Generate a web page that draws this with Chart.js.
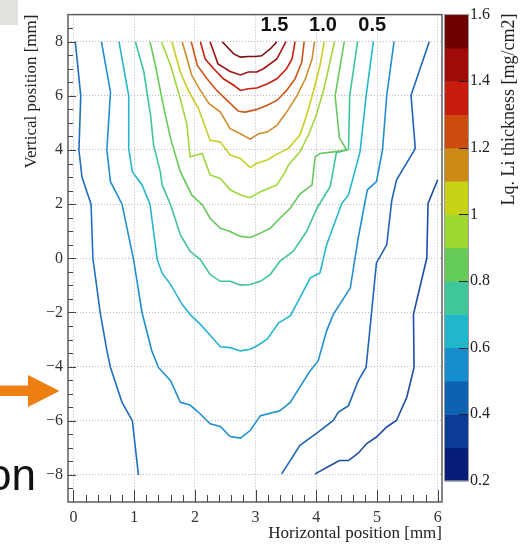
<!DOCTYPE html>
<html><head><meta charset="utf-8">
<script src="https://cdn.jsdelivr.net/npm/chart.js@4/dist/chart.umd.min.js"></script>
<style>html,body{margin:0;padding:0;background:#fff;overflow:hidden}canvas{display:block}</style>
</head><body>
<canvas id="c" width="520" height="545"></canvas>
<script>
// ---------- data (mm, mg/cm2) ----------
const xTicks = [0, 1, 2, 3, 4, 5, 6];
const yTicks = [-8, -6, -4, -2, 0, 2, 4, 6, 8];
const cbTicks = [0.2, 0.4, 0.6, 0.8, 1.0, 1.2, 1.4, 1.6];
const cbLevels = [0.2, 0.3, 0.4, 0.5, 0.6, 0.7, 0.8, 0.9, 1.0, 1.1, 1.2, 1.3, 1.4, 1.5, 1.6];
const levelLabels = ["1.5", "1.0", "0.5"];
const levelLabelX = [3.31, 4.11, 4.92];
const levelLabelY = [8.61, 8.61, 8.61];

const contour15 = [[2.45,8],[2.64,7.55],[2.75,7.43],[2.88,7.45],[3.0,7.45],[3.1,7.48],[3.24,7.73],[3.35,8]];
const contour14 = [[2.25,8],[2.38,7.18],[2.58,6.9],[2.75,6.77],[2.88,6.88],[3.02,6.88],[3.13,7.0],[3.35,7.36],[3.5,8]];
const contour13 = [[2.09,8],[2.17,7.36],[2.31,7.0],[2.47,6.63],[2.64,6.39],[2.75,6.2],[2.88,6.26],[3.02,6.29],[3.19,6.44],[3.35,6.63],[3.51,7.0],[3.6,7.36],[3.65,8]];
const contour12 = [[1.94,8],[2.04,7.12],[2.2,6.63],[2.36,6.2],[2.53,5.83],[2.72,5.43],[2.83,5.4],[3.02,5.5],[3.19,5.65],[3.35,5.83],[3.51,6.2],[3.65,6.63],[3.76,7.24],[3.8,8]];
const contour11 = [[1.79,8],[1.95,6.75],[2.09,6.2],[2.23,5.72],[2.42,5.4],[2.58,4.79],[2.75,4.6],[2.91,4.4],[3.05,4.6],[3.19,4.66],[3.35,4.91],[3.51,5.4],[3.68,6.0],[3.82,6.63],[3.93,7.36],[3.97,8]];
const contour10 = [[1.62,8],[1.76,6.88],[1.89,6.2],[2.06,5.53],[2.25,4.36],[2.42,4.3],[2.58,3.81],[2.75,3.69],[2.91,3.35],[3.02,3.51],[3.19,3.63],[3.32,3.81],[3.54,4.06],[3.73,4.55],[3.84,5.28],[3.95,6.14],[4.06,7.12],[4.13,8]];
const contour09 = [[1.45,8],[1.6,7.12],[1.76,5.89],[1.87,4.92],[1.92,3.75],[2.12,3.87],[2.25,3.08],[2.42,2.95],[2.58,2.53],[2.75,2.34],[2.91,2.24],[3.08,2.46],[3.35,2.71],[3.49,3.2],[3.54,3.44],[3.73,3.93],[3.88,4.6],[4.0,5.3],[4.12,6.2],[4.2,7.0],[4.3,8]];
const contour08 = [[1.26,8],[1.35,7.12],[1.49,5.53],[1.6,4.42],[1.76,3.2],[1.95,2.33],[2.12,1.98],[2.25,1.48],[2.42,1.11],[2.58,0.99],[2.75,0.81],[2.91,0.77],[3.08,0.93],[3.24,1.11],[3.4,1.48],[3.57,1.85],[3.73,2.37],[3.93,2.71],[3.98,3.75],[4.06,3.87],[4.28,3.93],[4.5,4.0],[4.38,4.45],[4.31,6.0],[4.46,8]];
const contour07 = [[1.02,8],[1.16,6.88],[1.27,5.28],[1.32,4.18],[1.43,3.2],[1.46,2.71],[1.6,1.98],[1.76,0.87],[1.92,0.26],[2.09,-0.05],[2.25,-0.6],[2.42,-0.85],[2.58,-0.85],[2.75,-0.99],[2.91,-0.97],[3.08,-0.85],[3.24,-0.6],[3.4,-0.11],[3.62,0.26],[3.84,0.99],[4.01,1.85],[4.23,2.65],[4.33,3.9],[4.53,4.02],[4.55,6.0],[4.68,8]];
const contour06 = [[0.75,8],[0.91,6.0],[0.91,4.05],[0.97,3.2],[1.13,2.71],[1.26,2.0],[1.38,-0.05],[1.46,-0.54],[1.6,-0.97],[1.79,-1.7],[1.92,-2.07],[2.09,-2.44],[2.31,-2.99],[2.42,-3.27],[2.58,-3.3],[2.75,-3.42],[2.91,-3.36],[3.02,-3.24],[3.19,-2.99],[3.38,-2.38],[3.57,-2.13],[3.73,-1.46],[3.9,-0.72],[4.06,-0.54],[4.17,0.5],[4.42,2.03],[4.53,2.34],[4.72,3.93],[4.82,6.0],[4.94,8]];
const contour05 = [[0.46,8],[0.61,6.14],[0.55,4.0],[0.61,2.83],[0.8,2.0],[0.99,-0.05],[1.13,-2.01],[1.29,-3.42],[1.4,-4.03],[1.6,-4.52],[1.76,-5.32],[1.92,-5.42],[2.09,-5.75],[2.25,-6.11],[2.42,-6.21],[2.58,-6.58],[2.75,-6.64],[2.91,-6.36],[3.08,-5.81],[3.4,-5.63],[3.57,-5.32],[3.9,-4.15],[4.03,-3.79],[4.17,-2.68],[4.28,-2.07],[4.56,-1.09],[4.69,0.75],[4.84,2.53],[4.99,2.83],[5.09,4.0],[5.16,6.02],[5.28,8]];
const contour04L = [[0.03,8],[0.12,6],[0.09,4],[0.14,3.0],[0.29,2],[0.32,0],[0.44,-2],[0.55,-3.4],[0.61,-4.03],[0.8,-5.32],[0.97,-6],[1.07,-8]];
const contour04R = [[5.86,8],[5.56,6.02],[5.63,4.05],[5.32,2.89],[5.24,2.1],[5.16,0.5],[4.99,-0.17],[4.88,-2.68],[4.82,-4.03],[4.69,-4.52],[4.53,-5.44],[4.36,-5.69],[4.28,-5.99],[4.03,-6.42],[3.73,-6.91],[3.43,-7.96]];
const contour03 = [[6.0,2.9],[5.84,2.03],[5.82,0.01],[5.6,-2.07],[5.61,-4.03],[5.49,-5.13],[5.32,-5.99],[5.16,-6.23],[4.99,-6.6],[4.83,-6.84],[4.69,-7.2],[4.53,-7.47],[4.38,-7.47],[4.2,-7.69],[3.98,-7.96]];

// ---------- styles ----------
const contours = [contour15, contour14, contour13, contour12, contour11, contour10, contour09, contour08, contour07, contour06, contour05, contour04L, contour04R, contour03];
const contourColors = ['#7d0f0f','#a51212','#c8200e','#cf5418','#d08c2a','#c6cf22','#9fd83a','#66c95a','#3fc49c','#25b5cf','#1f8fcf','#1f6ec0','#2064b8','#1d4ca6'];
const bandColors = ['#061d7a','#0a3c96','#0e62b4','#168ece','#20b6cc','#3ec79a','#66cc58','#9ed830','#c8d316','#cc8a14','#cc4c10','#c81c0c','#a00a08','#700000'];

const SERIF = "'Liberation Serif','Times New Roman',serif";
Chart.defaults.font.family = SERIF;

const deco = {
  id: 'deco',
  beforeDraw(chart) {
    const ctx = chart.ctx;
    ctx.save(); ctx.fillStyle = '#fff'; ctx.fillRect(0, 0, chart.width, chart.height); ctx.restore();
  },
  afterDatasetsDraw(chart) {
    const {ctx, chartArea: a, scales: {x, y, cb}} = chart;
    ctx.save();
    // frame
    ctx.strokeStyle = '#5e5e5e'; ctx.lineWidth = 1.5;
    ctx.strokeRect(a.left, a.top, a.right - a.left, a.bottom - a.top);
    // inward ticks
    ctx.strokeStyle = '#444'; ctx.lineWidth = 1;
    ctx.beginPath();
    for (let i = 0; i <= 30; i++) {
      const v = i / 5;
      const px = Math.round(x.getPixelForValue(v)) + 0.5;
      const len = xTicks.includes(v) ? 12 : 7;
      ctx.moveTo(px, a.bottom); ctx.lineTo(px, a.bottom - len);
    }
    for (let i = -17; i <= 17; i++) {
      const v = i / 2;
      const py = Math.round(y.getPixelForValue(v)) + 0.5;
      const len = yTicks.includes(v) ? 8 : 5;
      ctx.moveTo(a.left, py); ctx.lineTo(a.left + len, py);
    }
    ctx.stroke();
    // contour level labels
    ctx.fillStyle = '#111';
    ctx.font = "bold 20px 'Liberation Sans',Arial,sans-serif";
    ctx.textAlign = 'center'; ctx.textBaseline = 'middle';
    levelLabels.forEach((t, i) => ctx.fillText(t, x.getPixelForValue(levelLabelX[i]), y.getPixelForValue(levelLabelY[i])));
    // colour bar
    const bx0 = a.right + 3, bx1 = a.right + 26;
    for (let i = 0; i < bandColors.length; i++) {
      const p0 = cb.getPixelForValue(cbLevels[i]), p1 = cb.getPixelForValue(cbLevels[i + 1]);
      ctx.fillStyle = bandColors[i];
      ctx.fillRect(bx0, p1, bx1 - bx0, p0 - p1 + 0.5);
    }
    const ctop = cb.getPixelForValue(cbLevels[cbLevels.length - 1]), cbot = cb.getPixelForValue(cbLevels[0]);
    ctx.strokeStyle = '#9a9a9a'; ctx.lineWidth = 1;
    ctx.strokeRect(bx0 - 0.5, ctop, bx1 - bx0 + 1, cbot - ctop);
    ctx.strokeStyle = '#222'; ctx.lineWidth = 1.2;
    ctx.beginPath();
    cbTicks.forEach(v => {
      if (v <= 0.2 || v >= 1.6) return;
      const py = Math.round(cb.getPixelForValue(v)) + 0.5;
      ctx.moveTo(bx1 - 9, py); ctx.lineTo(bx1, py);
    });
    ctx.stroke();
    ctx.fillStyle = '#222'; ctx.font = '16px ' + SERIF;
    ctx.textAlign = 'left'; ctx.textBaseline = 'middle';
    cbTicks.forEach(v => ctx.fillText(Number.isInteger(v) ? String(v) : v.toFixed(1), bx1 + 2, cb.getPixelForValue(v)));
    // colour bar title
    ctx.save();
    ctx.translate(509, ctop - 1);
    ctx.rotate(-Math.PI / 2);
    ctx.font = '18px ' + SERIF; ctx.textAlign = 'right'; ctx.textBaseline = 'middle';
    ctx.fillText('Lq. Li thickness [mg/cm2]', 0, 0);
    ctx.restore();
    ctx.restore();
  },
  afterDraw(chart) {
    // pieces of the surrounding slide visible in the crop
    const ctx = chart.ctx;
    ctx.save();
    ctx.fillStyle = '#e3e3de';
    ctx.fillRect(0, 0, 18, 25);
    ctx.fillStyle = '#ee7f12';
    ctx.fillRect(0, 385.5, 29, 10.5);
    ctx.beginPath(); ctx.moveTo(28, 375); ctx.lineTo(59.5, 391); ctx.lineTo(28, 407); ctx.closePath(); ctx.fill();
    ctx.fillStyle = '#111';
    ctx.font = "44px 'Liberation Sans',Arial,sans-serif";
    ctx.textAlign = 'left'; ctx.textBaseline = 'alphabetic';
    ctx.fillText('on', -13, 490);
    ctx.restore();
  }
};

const datasets = contours.map((c, i) => ({
  data: c.map(p => ({x: p[0], y: p[1]})),
  showLine: true, borderColor: contourColors[i], borderWidth: 1.6,
  pointRadius: 0, tension: 0, fill: false
}));

new Chart(document.getElementById('c'), {
  type: 'scatter',
  data: {datasets},
  options: {
    responsive: false, animation: false, devicePixelRatio: 1,
    layout: {padding: {left: 0, right: 78, top: 12, bottom: 0}},
    plugins: {legend: {display: false}, tooltip: {enabled: false}},
    scales: {
      x: {
        type: 'linear', min: -0.09, max: 6.07,
        afterBuildTicks: s => { s.ticks = xTicks.map(v => ({value: v})); },
        afterFit: s => { s.height = 43; },
        ticks: {color: '#333', font: {size: 16}, padding: 6, maxRotation: 0},
        grid: {color: '#b8b8b8', lineWidth: 1, drawTicks: false},
        border: {display: false, dash: [1, 2]},
        title: {display: true, text: 'Horizontal position [mm]', align: 'end', color: '#222', font: {size: 17}, padding: {top: 0, bottom: 1}}
      },
      y: {
        type: 'linear', min: -9, max: 9,
        afterBuildTicks: s => { s.ticks = yTicks.map(v => ({value: v})); },
        afterFit: s => { s.width = 68; },
        ticks: {color: '#333', font: {size: 16}, padding: 5, callback: v => v < 0 ? '\u2212' + Math.abs(v) : String(v)},
        grid: {color: '#b8b8b8', lineWidth: 1, drawTicks: false},
        border: {display: false, dash: [1, 2]},
        title: {display: true, text: 'Vertical position [mm]', align: 'end', color: '#222', font: {size: 17}, padding: {top: 21, bottom: 0}}
      },
      cb: {
        type: 'linear', position: 'right', display: false, min: 0.1364, max: 1.6
      }
    }
  },
  plugins: [deco]
});
</script></body></html>
